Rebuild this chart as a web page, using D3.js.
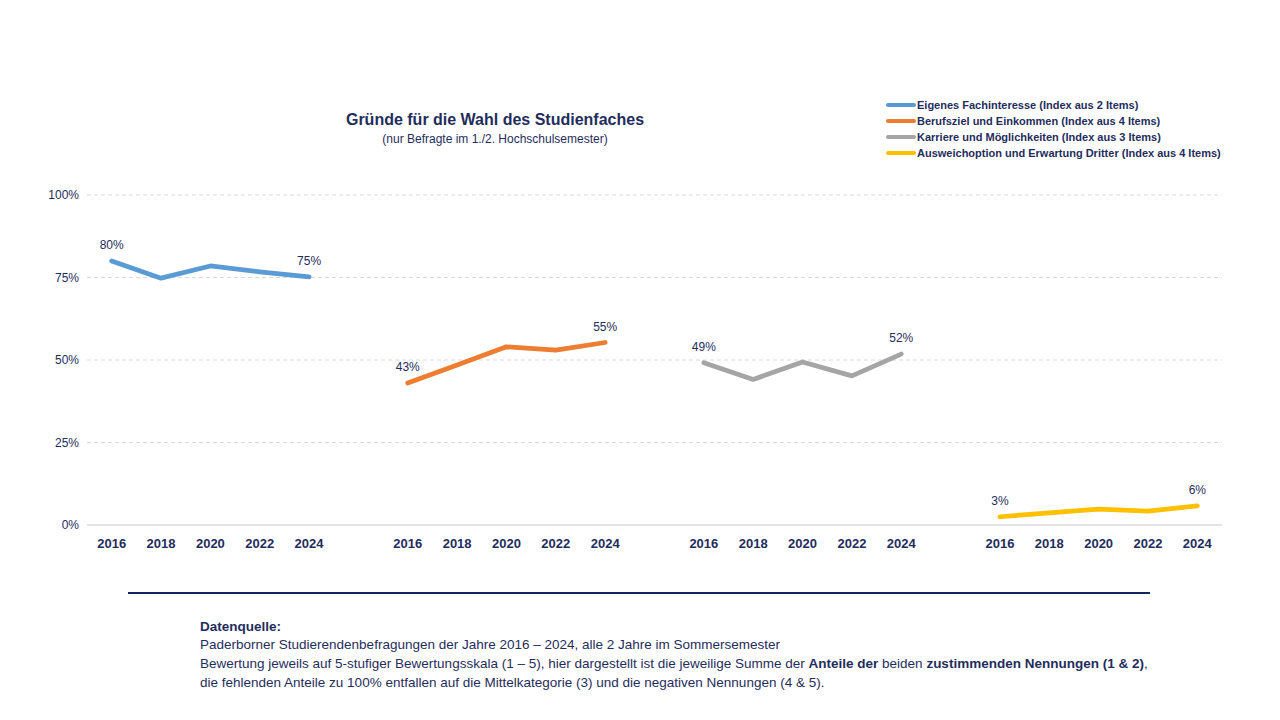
<!DOCTYPE html>
<html>
<head>
<meta charset="utf-8">
<script src="https://cdn.jsdelivr.net/npm/d3@7"></script>
<style>
  body { margin: 0; background: #fff; }
  svg { display: block; font-family: "Liberation Sans Narrow", "Arial Narrow", "Liberation Sans", Arial, sans-serif; }
</style>
</head>
<body>
<svg></svg>
<script>
// data
let years = ['2016', '2018', '2020', '2022', '2024'];
let seriesNames = [
  'Eigenes Fachinteresse (Index aus 2 Items)',
  'Berufsziel und Einkommen (Index aus 4 Items)',
  'Karriere und Möglichkeiten (Index aus 3 Items)',
  'Ausweichoption und Erwartung Dritter (Index aus 4 Items)'
];
let seriesColors = ['#5b9bd5', '#ed7d31', '#a5a5a5', '#ffc000'];
let fachinteresse = [0.80, 0.748, 0.785, 0.767, 0.752];
let berufsziel = [0.43, 0.485, 0.54, 0.53, 0.553];
let karriere = [0.492, 0.441, 0.494, 0.452, 0.518];
let ausweich = [0.025, 0.037, 0.048, 0.042, 0.058];
let yTicks = [0, 0.25, 0.5, 0.75, 1];

let allValues = [fachinteresse, berufsziel, karriere, ausweich];
let navy = '#1f2d5c';

// configuration
let config = { svg: {}, plot: {} };
config.svg.width = 1280;
config.svg.height = 720;
config.plot.left = 87;
config.plot.right = 1222;
config.plot.top = 195;
config.plot.bottom = 525;

let svg = d3.select('svg')
  .attr('width', config.svg.width)
  .attr('height', config.svg.height);

// slots: 5 years per group, one empty slot between groups
let slots = [];
allValues.forEach(function(vals, i) {
  if (i > 0) slots.push('gap' + i);
  years.forEach(function(y) { slots.push(i + '-' + y); });
});

let x = d3.scaleBand()
  .domain(slots)
  .range([config.plot.left, config.plot.right])
  .padding(0);

let y = d3.scaleLinear()
  .domain([0, 1])
  .range([config.plot.bottom, config.plot.top]);

// gridlines
svg.append('g')
  .selectAll('line')
  .data(yTicks)
  .enter()
  .append('line')
    .attr('x1', config.plot.left)
    .attr('x2', config.plot.right)
    .attr('y1', d => y(d))
    .attr('y2', d => y(d))
    .attr('stroke', d => d === 0 ? '#c8c8c8' : '#d9d9d9')
    .attr('stroke-width', 1)
    .attr('stroke-dasharray', d => d === 0 ? null : '4,3');

// y axis labels
let gy = svg.append('g')
  .attr('transform', translate(config.plot.left - 8, 0))
  .call(d3.axisLeft(y).tickValues(yTicks).tickSize(0).tickFormat(d3.format('.0%')));
gy.select('.domain').remove();
gy.selectAll('text')
  .attr('fill', navy)
  .attr('font-size', 12)
  .attr('x', 0);

// x axis labels
let gx = svg.append('g')
  .attr('transform', translate(0, config.plot.bottom + 11))
  .call(d3.axisBottom(x).tickSize(0).tickFormat(d => d.startsWith('gap') ? '' : d.split('-')[1]));
gx.select('.domain').remove();
gx.selectAll('text')
  .attr('fill', navy)
  .attr('font-size', 13)
  .attr('font-weight', 'bold');

// lines
let line = d3.line()
  .x(d => x(d.key) + x.bandwidth() / 2)
  .y(d => y(d.value));

allValues.forEach(function(vals, i) {
  let pts = vals.map((v, j) => ({ key: i + '-' + years[j], value: v }));
  svg.append('path')
    .datum(pts)
    .attr('fill', 'none')
    .attr('stroke', seriesColors[i])
    .attr('stroke-width', 4.75)
    .attr('stroke-linecap', 'round')
    .attr('stroke-linejoin', 'round')
    .attr('d', line);

  // labels on first and last point
  svg.append('g')
    .selectAll('text')
    .data([pts[0], pts[pts.length - 1]])
    .enter()
    .append('text')
      .attr('x', d => x(d.key) + x.bandwidth() / 2)
      .attr('y', d => y(d.value) - 12)
      .attr('text-anchor', 'middle')
      .attr('fill', navy)
      .attr('font-size', 12)
      .text(d => Math.round(d.value * 100) + '%');
});

// title
svg.append('text')
  .attr('x', 495).attr('y', 125)
  .attr('text-anchor', 'middle')
  .attr('fill', navy)
  .attr('font-size', 16)
  .attr('font-weight', 'bold')
  .text('Gründe für die Wahl des Studienfaches');
svg.append('text')
  .attr('x', 495).attr('y', 143)
  .attr('text-anchor', 'middle')
  .attr('fill', navy)
  .attr('font-size', 12)
  .text('(nur Befragte im 1./2. Hochschulsemester)');

// legend
let legend = svg.append('g').attr('transform', translate(886, 105));
let item = legend.selectAll('g')
  .data(seriesNames)
  .enter()
  .append('g')
    .attr('transform', (d, i) => translate(0, i * 16));
item.append('line')
  .attr('x1', 2).attr('x2', 28)
  .attr('stroke', (d, i) => seriesColors[i])
  .attr('stroke-width', 4)
  .attr('stroke-linecap', 'round');
item.append('text')
  .attr('x', 31).attr('y', 4)
  .attr('fill', navy)
  .attr('font-size', 11)
  .attr('font-weight', 'bold')
  .text(d => d);

// separator
svg.append('line')
  .attr('x1', 128).attr('x2', 1150)
  .attr('y1', 593).attr('y2', 593)
  .attr('stroke', '#10265e')
  .attr('stroke-width', 2);

// footer
let foot = svg.append('text')
  .attr('fill', navy)
  .attr('font-size', 13.5);
foot.append('tspan').attr('x', 200).attr('y', 631).attr('font-weight', 'bold').text('Datenquelle:');
foot.append('tspan').attr('x', 200).attr('y', 649).text('Paderborner Studierendenbefragungen der Jahre 2016 – 2024,  alle 2 Jahre im Sommersemester');
let l3 = foot.append('tspan').attr('x', 200).attr('y', 668);
l3.append('tspan').text('Bewertung jeweils auf 5-stufiger  Bewertungsskala (1 – 5), hier dargestellt ist die jeweilige Summe der ');
l3.append('tspan').attr('font-weight', 'bold').text('Anteile der');
l3.append('tspan').text(' beiden ');
l3.append('tspan').attr('font-weight', 'bold').text('zustimmenden Nennungen (1 & 2)');
l3.append('tspan').text(',');
foot.append('tspan').attr('x', 200).attr('y', 687).text('die fehlenden Anteile zu 100% entfallen auf die Mittelkategorie (3) und die negativen Nennungen (4 & 5).');

function translate(x, y) {
  return 'translate(' + x + ',' + y + ')';
}
</script>
</body>
</html>
